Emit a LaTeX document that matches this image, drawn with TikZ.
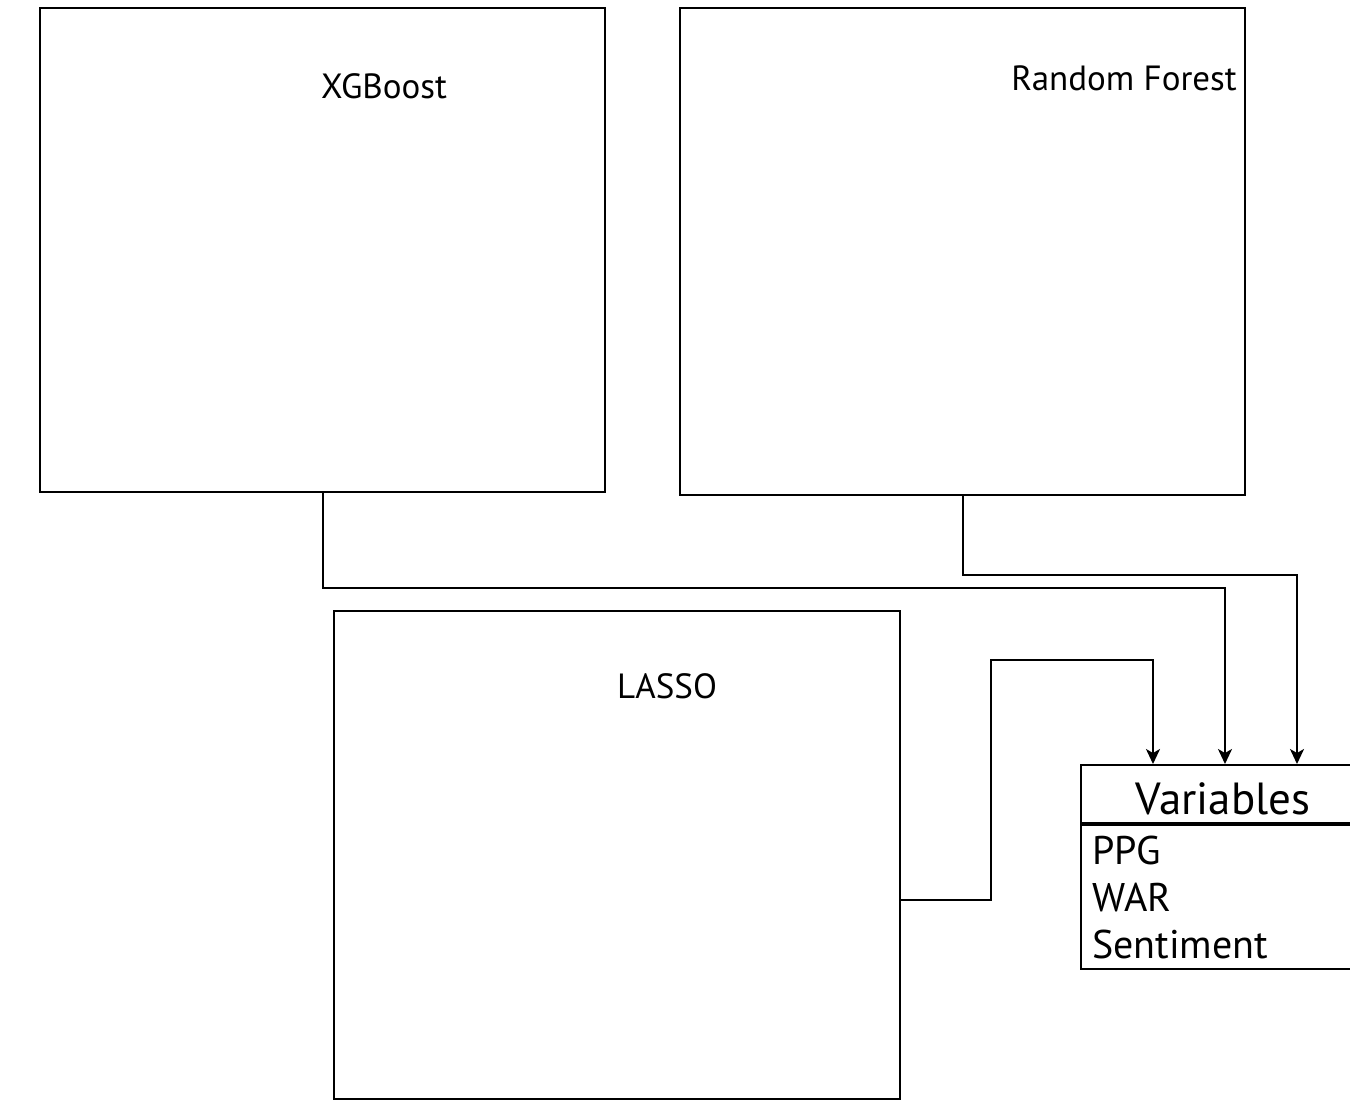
\documentclass[tikz,border=0pt]{standalone}
\usepackage{fontspec}
\setmainfont{PT Sans}
\usetikzlibrary{arrows.meta,positioning}

\begin{document}
\begin{tikzpicture}[
  x=1pt, y=-1pt,
  model/.style={draw, line width=2pt, minimum width=565pt, minimum height=485pt, inner sep=0pt},
  title/.style={font=\fontsize{35}{42}\selectfont, inner sep=0pt},
  varbox/.style={draw, line width=2pt, minimum width=284pt, inner sep=0pt},
  arrow/.style={-{Stealth[length=15pt,width=14pt,inset=4pt]}, line width=2pt}
]
\useasboundingbox (0,0) rectangle (1350,1101);
\node[model, minimum height=484pt] (xgb) at (322.5,250) {};
\node[title] (xgbtitle) at (384,86) {XGBoost};
\node[model, minimum height=487pt] (rf) at (962.5,251.5) {};
\node[title, anchor=east] (rftitle) at (1237,78) {Random Forest};
\node[model, minimum height=488pt, minimum width=566pt] (lasso) at (617,855) {};
\node[title] (lassotitle) at (667,686) {LASSO};
\node[varbox, minimum height=58pt, text height=42pt, font=\fontsize{45}{54}\selectfont] (varhead) at (1223,794) {Variables};
\node[varbox, minimum height=144pt, anchor=north, text width=262pt, inner xsep=11pt, align=left,
  font=\fontsize{40}{47}\selectfont] (varbody) at (varhead.south) {PPG\\WAR\\Sentiment};

\draw[arrow] (xgb.south) -- ++(0,95) -| ([xshift=2pt]varhead.north);
\draw[arrow] (rf.south) -- ++(0,79) -| ([xshift=74pt]varhead.north);
\draw[arrow] ([yshift=-45pt]lasso.east) -- ++(90,0) -- ++(0,-240) -| ([xshift=-70pt]varhead.north);
\end{tikzpicture}
\end{document}
